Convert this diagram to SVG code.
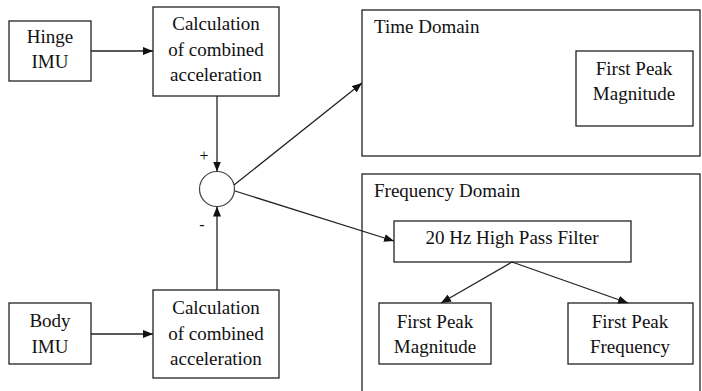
<svg xmlns="http://www.w3.org/2000/svg" width="702" height="391" viewBox="0 0 702 391">
<defs>
<marker id="ah" markerWidth="10" markerHeight="8" refX="10" refY="4" orient="auto" markerUnits="userSpaceOnUse">
<path d="M0,0 L10,4 L0,8 Z" fill="#111"/>
</marker>
</defs>
<style>
.box{fill:#fff;stroke:#222;stroke-width:1.3}
text{font-family:'Liberation Serif','Times New Roman',serif;font-size:19px;fill:#111}
.t{text-anchor:middle}
.s{font-size:16px}
.c{stroke:#222;stroke-width:1.3;fill:none;marker-end:url(#ah)}
</style>
<rect width="702" height="391" fill="#fff"/>
<g id="time-domain">
<rect class="box" x="362" y="10" width="338" height="146"/>
<text x="374" y="33">Time Domain</text>
</g>
<g id="frequency-domain">
<rect class="box" x="362" y="174" width="338" height="230"/>
<text x="374" y="197">Frequency Domain</text>
</g>
<g id="hinge-imu">
<rect class="box" x="9" y="21" width="82" height="60"/>
<text class="t" x="50" y="43">Hinge</text>
<text class="t" x="50" y="68">IMU</text>
</g>
<g id="calc-top">
<rect class="box" x="153" y="7" width="126" height="89"/>
<text class="t" x="216" y="29.5">Calculation</text>
<text class="t" x="216" y="55.5">of combined</text>
<text class="t" x="216" y="81">acceleration</text>
</g>
<g id="body-imu">
<rect class="box" x="9" y="303" width="82" height="61"/>
<text class="t" x="50" y="327">Body</text>
<text class="t" x="50" y="353">IMU</text>
</g>
<g id="calc-bottom">
<rect class="box" x="153" y="290" width="126" height="88"/>
<text class="t" x="216" y="314">Calculation</text>
<text class="t" x="216" y="339.5">of combined</text>
<text class="t" x="216" y="364.5">acceleration</text>
</g>
<g id="sum">
<circle cx="217" cy="189" r="17.5" fill="#fff" stroke="#444" stroke-width="1.2"/>
<text class="t s" x="204" y="161">+</text>
<text class="t s" x="202" y="230">-</text>
</g>
<g id="time-peak-mag">
<rect class="box" x="576" y="51" width="117" height="75"/>
<text class="t" x="634" y="75">First Peak</text>
<text class="t" x="634" y="100">Magnitude</text>
</g>
<g id="hpf">
<rect class="box" x="394" y="221" width="237" height="41"/>
<text class="t" x="512" y="244">20 Hz High Pass Filter</text>
</g>
<g id="freq-peak-mag">
<rect class="box" x="379" y="303" width="112" height="61"/>
<text class="t" x="435" y="328">First Peak</text>
<text class="t" x="435" y="353">Magnitude</text>
</g>
<g id="freq-peak-freq">
<rect class="box" x="568" y="303" width="125" height="61"/>
<text class="t" x="630" y="328">First Peak</text>
<text class="t" x="630" y="353">Frequency</text>
</g>
<g id="connectors">
<line class="c" x1="91" y1="51" x2="153" y2="51"/>
<line class="c" x1="91" y1="334" x2="153" y2="334"/>
<line class="c" x1="217" y1="96" x2="217" y2="171.5"/>
<line class="c" x1="217" y1="290" x2="217" y2="206.5"/>
<line class="c" x1="234" y1="185" x2="362" y2="83"/>
<line class="c" x1="235" y1="191" x2="394" y2="241"/>
<line class="c" x1="512" y1="262" x2="441" y2="303"/>
<line class="c" x1="512" y1="262" x2="628" y2="303"/>
</g>
</svg>
